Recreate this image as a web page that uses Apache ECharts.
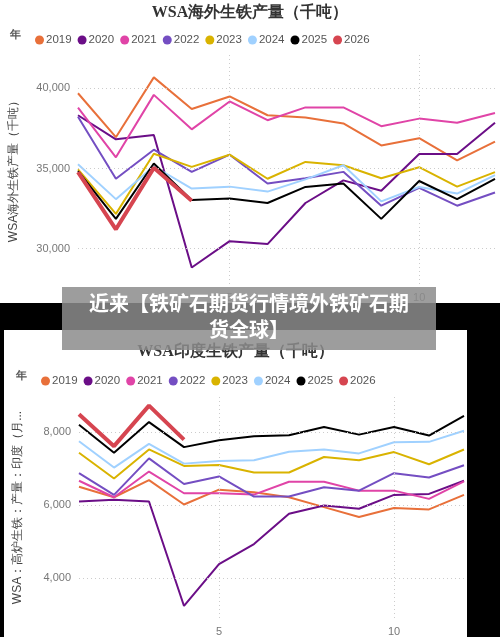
<!DOCTYPE html>
<html><head><meta charset="utf-8">
<script src="https://cdn.jsdelivr.net/npm/echarts@6/dist/echarts.min.js"></script>
<style>
body{margin:0;width:500px;height:637px;position:relative;overflow:hidden;background:#fff;font-family:"Noto Sans CJK SC",sans-serif}
#black{position:absolute;left:0;top:303px;width:500px;height:334px;background:#000}
#c1{position:absolute;left:0;top:0;width:500px;height:303px}
#c2{position:absolute;left:4px;top:330px;width:463px;height:307px;background:#fff}
#ov{position:absolute;left:62px;top:287px;width:374px;height:63px;background:rgba(140,140,140,0.85);color:#fff;font-weight:bold;font-size:20px;line-height:26px;text-align:center;padding-top:3px;box-sizing:border-box;white-space:nowrap}
</style></head><body>
<div id="c1"></div><div id="black"></div><div id="c2"></div>
<div id="ov">近来【铁矿石期货行情境外铁矿石期<br>货全球】</div>
<script>
const years=['2019','2020','2021','2022','2023','2024','2025','2026'];
const months=[1,2,3,4,5,6,7,8,9,10,11,12];
const colors=['#E8703A','#6B0E87','#E044A7','#744EC2','#D9B300','#A0D1FF','#000000','#D64550'];
const world=[
[39690,36950,40680,38710,39490,38320,38180,37810,36440,36890,35510,36680],
[38320,36820,37090,28830,30470,30290,32850,34260,33610,35900,35900,37850],
[38790,35700,39590,37440,39180,38010,38810,38810,37640,38110,37850,38460],
[38220,34360,36170,34790,35860,34060,34390,34790,32680,33790,32680,33500],
[34940,32170,35920,35100,35860,34360,35410,35200,34390,35080,33870,34770],
[35270,33090,35140,33750,33870,33560,34320,35200,32950,33850,33440,34590],
[34840,31860,35310,33030,33130,32850,33850,34060,31860,34220,33090,34360],
[34770,31210,35040,32990]];
const india=[
[6507,6217,6688,6018,6425,6353,6217,5946,5674,5919,5882,6281],
[6100,6145,6100,3231,4380,4932,5765,5991,5900,6281,6308,6670],
[6670,6217,6923,6326,6326,6290,6643,6643,6398,6398,6172,6652],
[6878,6281,7285,6579,6787,6235,6235,6489,6398,6878,6760,7095],
[7439,6733,7529,7077,7104,6896,6896,7321,7231,7457,7122,7529],
[7756,7032,7683,7140,7213,7231,7466,7529,7421,7729,7738,8045],
[8208,7439,8281,7593,7783,7891,7919,8145,7937,8145,7910,8452],
[8498,7620,8733,7801]];
const topTicks=[30000,35000,40000];
const indiaTicks=[4000,6000,8000];
const xTicks=[5,10];

function build(el,title,yname,data,ticks,ymin,ymax,grid,titleTop,legTop,nameGap){
  const ch=echarts.init(document.getElementById(el));
  const gl={silent:true,symbol:'none',label:{show:false},lineStyle:{color:'#ccc',type:[1,3],width:1},
    data:ticks.map(v=>({yAxis:v})).concat(xTicks.map(v=>({xAxis:v})))};
  const series=years.map((y,i)=>({name:y,type:'line',symbol:'none',
    data:data[i].map((v,j)=>[months[j],v]),
    lineStyle:{color:colors[i],width:i==7?4:2},itemStyle:{color:colors[i]},z:i==7?5:2,
    markLine:i==0?gl:undefined}));
  ch.setOption({animation:false,
    title:{text:title,left:'center',top:titleTop,textStyle:{fontFamily:'serif',fontSize:16,fontWeight:'bold',color:'#333'}},
    legend:{data:years,left:grid.legLeft,top:legTop,icon:'circle',itemWidth:9,itemHeight:9,itemGap:6,
      textStyle:{fontSize:11.5,color:'#555',padding:[0,0,0,-3]}},
    graphic:[{type:'text',left:grid.legLeft-20,top:legTop,style:{text:'年',fontSize:11,fontWeight:'bold',fill:'#555'}}],
    grid:{left:grid.left,right:grid.right,top:grid.top,bottom:grid.bottom},
    xAxis:{type:'value',min:1,max:12,axisLine:{show:false},axisTick:{show:false},splitLine:{show:false},
      axisLabel:{customValues:xTicks,color:'#777',fontSize:11}},
    yAxis:{type:'value',min:ymin,max:ymax,name:yname,nameLocation:'middle',nameGap:nameGap,nameRotate:90,
      nameTextStyle:{color:'#444',fontSize:12},axisLine:{show:false},axisTick:{show:false},splitLine:{show:false},
      axisLabel:{customValues:ticks,color:'#777',fontSize:11,formatter:v=>v.toLocaleString('en-US')}},
    series});
}
build('c1','WSA海外生铁产量（千吨）','WSA海外生铁产量（千吨）',world,topTicks,27800,42200,
  {left:77,right:5,top:53,bottom:18,legLeft:30},0,29,58);
build('c2','WSA印度生铁产量（千吨）','WSA：高炉生铁：产量：印度（月...',india,indiaTicks,2900,8970,
  {left:73,right:3,top:67,bottom:17,legLeft:32},9,40,55);
</script></body></html>
